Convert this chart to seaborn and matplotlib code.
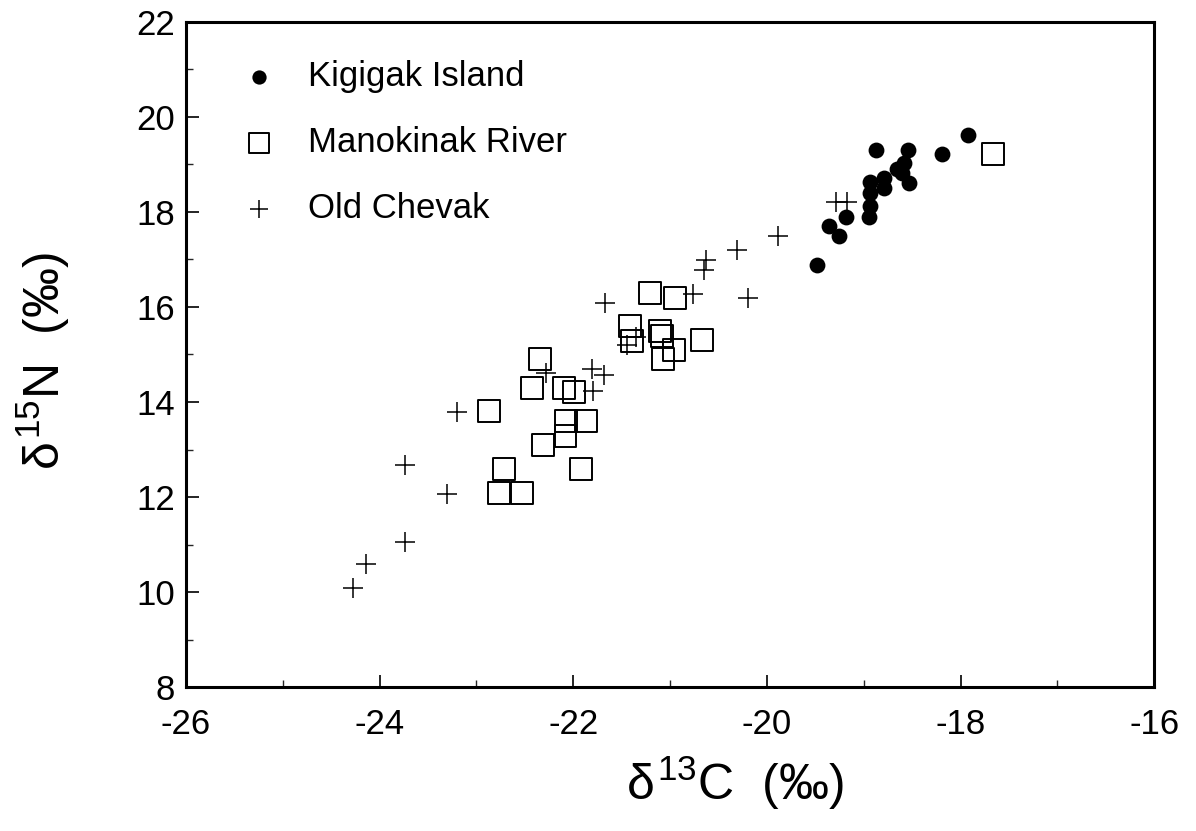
import numpy as np
import pandas as pd
import matplotlib
matplotlib.use("Agg")
import matplotlib.pyplot as plt
from matplotlib.ticker import MultipleLocator
import seaborn as sns

# Valeurs (delta 13C, delta 15N)
kigigak_c = [-17.92, -18.87, -18.54, -18.19, -18.58, -18.66, -18.60, -18.79, -18.53,
             -18.93, -18.79, -18.93, -18.93, -18.95, -19.18, -19.36, -19.26, -19.48]
kigigak_n = [19.61, 19.31, 19.31, 19.21, 19.02, 18.91, 18.81, 18.72, 18.60,
             18.62, 18.49, 18.40, 18.12, 17.89, 17.89, 17.70, 17.49, 16.89]

manokinak_c = [-17.66, -21.21, -20.95, -21.41, -21.39, -21.10, -21.08, -20.96, -21.07,
               -20.67, -22.34, -22.43, -22.10, -21.99, -22.87, -22.07, -21.87, -22.08,
               -22.31, -22.72, -21.92, -22.77, -22.53]
manokinak_n = [19.21, 16.29, 16.18, 15.59, 15.28, 15.50, 15.39, 15.10, 14.90,
               15.30, 14.90, 14.30, 14.30, 14.21, 13.80, 13.60, 13.60, 13.28,
               13.10, 12.59, 12.59, 12.08, 12.08]

chevak_c = [-24.27, -24.14, -23.74, -23.30, -23.74, -23.20, -22.28, -21.81, -21.68,
            -21.80, -21.35, -21.44, -21.67, -20.76, -20.65, -20.63, -20.31, -20.19,
            -19.88, -19.29, -19.17]
chevak_n = [10.08, 10.59, 11.06, 12.07, 12.68, 13.79, 14.60, 14.70, 14.56,
            14.24, 15.37, 15.19, 16.09, 16.28, 16.77, 16.98, 17.19, 16.18,
            17.49, 18.21, 18.21]

site_names = ["Kigigak Island", "Manokinak River", "Old Chevak"]

df = pd.DataFrame({
    "d13C": kigigak_c + manokinak_c + chevak_c,
    "d15N": kigigak_n + manokinak_n + chevak_n,
    "site": [site_names[0]] * len(kigigak_c) + [site_names[1]] * len(manokinak_c)
            + [site_names[2]] * len(chevak_c),
})

sns.set_style("white")
plt.rcParams["font.family"] = ["Liberation Sans", "DejaVu Sans"]
plt.rcParams["mathtext.fontset"] = "custom"
plt.rcParams["mathtext.rm"] = "Liberation Sans"
plt.rcParams["mathtext.it"] = "Liberation Sans"
plt.rcParams["axes.unicode_minus"] = False
plt.rcParams["text.color"] = "black"
plt.rcParams["axes.labelcolor"] = "black"

fig, ax = plt.subplots(figsize=(11.96, 8.31), dpi=100)
fig.subplots_adjust(left=0.1555, right=0.965, top=0.974, bottom=0.173)

sns.scatterplot(data=df[df["site"] == site_names[0]], x="d13C", y="d15N", ax=ax,
                marker="o", s=130, color="black", edgecolor="black", linewidth=0,
                label=site_names[0], zorder=3)
sns.scatterplot(data=df[df["site"] == site_names[1]], x="d13C", y="d15N", ax=ax,
                marker="s", s=250, facecolor="none", edgecolor="black", linewidth=1.4,
                label=site_names[1], zorder=2)
sns.scatterplot(data=df[df["site"] == site_names[2]], x="d13C", y="d15N", ax=ax,
                marker="+", s=200, color="black", linewidth=1.1,
                label=site_names[2], zorder=4)

ax.set_xlim(-26, -16)
ax.set_ylim(8, 22)
ax.xaxis.set_major_locator(MultipleLocator(2))
ax.xaxis.set_minor_locator(MultipleLocator(1))
ax.yaxis.set_major_locator(MultipleLocator(2))
ax.yaxis.set_minor_locator(MultipleLocator(1))
ax.tick_params(axis="both", which="major", direction="in", length=9, width=1.2,
               labelsize=25, colors="black")
ax.tick_params(axis="x", which="major", pad=15)
ax.tick_params(axis="y", which="major", pad=8)
ax.tick_params(axis="both", which="minor", direction="in", length=5, width=1.0)
ax.tick_params(axis="both", which="both", bottom=True, left=True, top=False, right=False)
for sp in ax.spines.values():
    sp.set_linewidth(2.2)
    sp.set_color("black")

ax.set_xlabel(r"$\delta^{13}$C  (‰)", fontsize=36)
ax.set_ylabel(r"$\delta^{15}$N  (‰)", fontsize=36)
ax.xaxis.set_label_coords(0.567, -0.10)
ax.yaxis.set_label_coords(-0.118, 0.49)

leg = ax.legend(loc="upper left", frameon=False, fontsize=25, labelspacing=0.95,
                handlelength=2.0, handletextpad=0.4, borderaxespad=0.55,
                borderpad=0.55, markerscale=0.9, labelcolor="black")

plt.savefig("out.png", dpi=100)
